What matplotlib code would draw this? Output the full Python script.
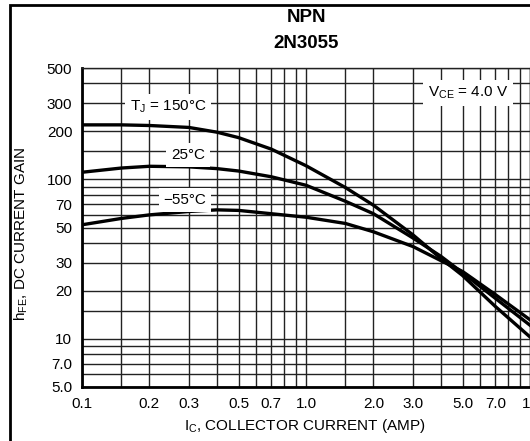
import numpy as np
import matplotlib
matplotlib.use('Agg')
import matplotlib.pyplot as plt
from matplotlib.ticker import FixedLocator, FixedFormatter, NullFormatter
from matplotlib.patches import Rectangle

plt.rcParams['font.family'] = ['Liberation Sans', 'DejaVu Sans']
plt.rcParams['mathtext.default'] = 'regular'

# collector current (A) and DC current gain
ic = [0.1, 0.15, 0.2, 0.3, 0.4, 0.5, 0.7, 1.0, 1.5, 2.0, 3.0, 4.0, 5.0, 7.0, 10.0]
hfe_150 = [220, 220, 218, 212, 198, 183, 155, 122, 89, 69, 45, 32, 25, 16, 10.3]
hfe_25 = [111, 118, 121, 120, 117, 113, 104, 92, 73, 61, 43, 33, 26, 18, 12.2]
hfe_m55 = [52, 57, 60, 63, 64.5, 64, 61, 58, 53, 47, 38, 31, 26.5, 19, 13.2]

x_major = [0.1, 0.2, 0.3, 0.5, 0.7, 1.0, 2.0, 3.0, 5.0, 7.0, 10]
x_labels = ['0.1', '0.2', '0.3', '0.5', '0.7', '1.0', '2.0', '3.0', '5.0', '7.0', '10']
x_minor = [0.15, 0.4, 0.6, 0.8, 0.9, 1.5, 4, 6, 8, 9]
y_major = [5, 7, 10, 20, 30, 50, 70, 100, 200, 300, 500]
y_labels = ['5.0', '7.0', '10', '20', '30', '50', '70', '100', '200', '300', '500']
y_minor = [6, 8, 9, 15, 40, 60, 80, 90, 150, 400]

fig = plt.figure(figsize=(5.30, 4.41), dpi=100)
ax = fig.add_axes([82 / 530, 54 / 441, 448 / 530, 319 / 441])

ax.set_xscale('log')
ax.set_yscale('log')
ax.set_xlim(0.1, 10)
ax.set_ylim(5, 500)

ax.xaxis.set_major_locator(FixedLocator(x_major))
ax.xaxis.set_major_formatter(FixedFormatter(x_labels))
ax.xaxis.set_minor_locator(FixedLocator(x_minor))
ax.xaxis.set_minor_formatter(NullFormatter())
ax.yaxis.set_major_locator(FixedLocator(y_major))
ax.yaxis.set_major_formatter(FixedFormatter(y_labels))
ax.yaxis.set_minor_locator(FixedLocator(y_minor))
ax.yaxis.set_minor_formatter(NullFormatter())

ax.tick_params(which='both', length=0, labelsize=11, pad=7)
ax.grid(which='both', color='#222222', lw=1.0)
ax.set_axisbelow(True)

for s in ['left', 'bottom']:
    ax.spines[s].set_linewidth(2)
for s in ['top', 'right']:
    ax.spines[s].set_linewidth(1)
    ax.spines[s].set_color('#222222')

ax.plot(ic, hfe_150, color='black', lw=2.4)
ax.plot(ic, hfe_25, color='black', lw=2.4)
ax.plot(ic, hfe_m55, color='black', lw=2.4)

box = dict(facecolor='white', edgecolor='none', pad=3.5)
ax.text(0.242, 284, 'T$_J$ = 150°C', fontsize=11, ha='center', va='center', bbox=box)
ax.text(0.297, 142, '25°C', fontsize=11, ha='center', va='center', bbox=box)
ax.text(0.288, 74, '\u221255°C', fontsize=11, ha='center', va='center', bbox=box)
ax.text(5.29, 349, 'V$_{CE}$ = 4.0 V', fontsize=11, ha='center', va='center', bbox=box)

ax.set_xlabel('I$_C$, COLLECTOR CURRENT (AMP)', fontsize=11)
ax.xaxis.set_label_coords(0.498, -0.095)
ax.set_ylabel('h$_{FE}$, DC CURRENT GAIN', fontsize=11)
ax.yaxis.set_label_coords(-0.115, 0.48)

fig.text(306 / 530, 1 - 18 / 441, 'NPN', fontsize=13.5, fontweight='bold', ha='center', va='center')
fig.text(306 / 530, 1 - 43 / 441, '2N3055', fontsize=13.5, fontweight='bold', ha='center', va='center')

fig.patches.append(Rectangle((10 / 530, -0.1), 1.2, (436 / 441) + 0.1, transform=fig.transFigure,
                             fill=False, edgecolor='black', lw=2))

fig.savefig('out.png', dpi=100)
